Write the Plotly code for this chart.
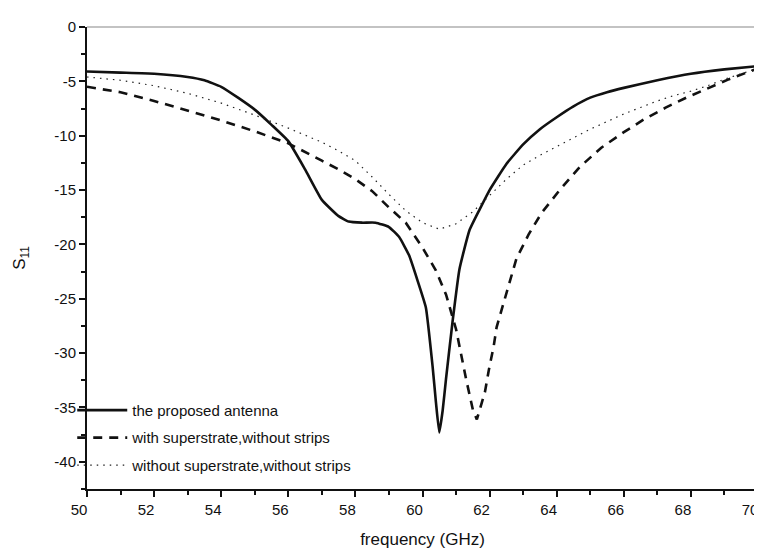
import plotly.graph_objects as go

# Data
x_prop = [50, 51, 52, 53, 53.5, 54, 54.5, 55, 55.5, 56, 56.5, 57, 57.5, 57.8, 58.2, 58.6, 59, 59.3,
          59.6, 59.85, 60.1, 60.3, 60.4, 60.5, 60.6, 60.7, 60.9, 61.1, 61.4, 61.7, 62, 62.5, 63,
          63.5, 64, 64.5, 65, 65.5, 66, 67, 68, 69, 70]
y_prop = [-4.1, -4.2, -4.3, -4.6, -4.9, -5.5, -6.5, -7.6, -9.0, -10.5, -13.1, -15.9, -17.4, -17.9,
          -18.0, -18.0, -18.4, -19.3, -21.0, -23.3, -25.8, -31.2, -34.5, -37.3, -35.3, -32.4, -27.0,
          -22.3, -18.7, -16.8, -15.0, -12.6, -10.8, -9.4, -8.3, -7.3, -6.5, -6.0, -5.6, -4.9, -4.3,
          -3.9, -3.6]

x_sup = [50, 51, 52, 53, 54, 55, 56, 57, 57.5, 58, 58.5, 59, 59.5, 60, 60.4, 60.7, 61, 61.3, 61.5,
         61.62, 61.86, 61.98, 62.12, 62.21, 62.42, 62.6, 62.8, 63.16, 63.55, 64.09, 64.68, 65.33,
         65.99, 66.6, 67.26, 67.86, 68.51, 69.14, 70]
y_sup = [-5.5, -6.0, -6.8, -7.7, -8.6, -9.6, -10.7, -12.3, -13.1, -14.0, -15.1, -16.6, -18.0, -20.3,
         -22.4, -24.6, -27.8, -32.4, -35.2, -36.1, -33.6, -31.5, -29.4, -27.6, -25.4, -23.3, -21.3,
         -19.1, -17.1, -15.0, -12.9, -11.1, -9.7, -8.5, -7.4, -6.5, -5.6, -4.8, -3.8]

x_none = [50, 51, 52, 53, 54, 55, 56, 57, 57.5, 58, 58.5, 59, 59.5, 60, 60.5, 61, 61.5, 62, 62.5,
          63, 63.5, 64, 64.5, 65, 65.5, 66, 66.5, 67, 67.5, 68, 68.5, 69, 69.5, 70]
y_none = [-4.6, -4.9, -5.4, -6.1, -7.0, -8.1, -9.3, -10.6, -11.4, -12.3, -13.8, -15.4, -16.9, -18.0,
          -18.6, -18.1, -17.0, -15.5, -14.0, -12.7, -11.8, -11.0, -10.2, -9.4, -8.7, -8.0, -7.4,
          -6.8, -6.3, -5.9, -5.4, -4.8, -4.3, -3.8]

names = ["the proposed antenna", "with superstrate,without strips",
         "without superstrate,without strips"]

x_tickvals = [50, 52, 54, 56, 58, 60, 62, 64, 66, 68, 70]
x_ticktext = ["50", "52", "54", "56", "58", "60", "62", "64", "66", "68", "70"]
y_tickvals = [0, -5, -10, -15, -20, -25, -30, -35, -40]
y_ticktext = ["0", "-5", "-10", "-15", "-20", "-25", "-30", "-35", "-40"]

fig = go.Figure()
fig.add_trace(go.Scatter(x=x_prop, y=y_prop, mode="lines", name=names[0], legendgroup="a",
                         line=dict(color="#111111", width=2.6, shape="spline", smoothing=0.4)))
fig.add_trace(go.Scatter(x=x_sup, y=y_sup, mode="lines", name=names[1], legendgroup="b",
                         line=dict(color="#111111", width=2.6, dash="9px,7px")))
fig.add_trace(go.Scatter(x=x_none, y=y_none, mode="lines", name=names[2], legendgroup="c",
                         line=dict(color="#222222", width=1.2, dash="1.5px,5px")))

font = "Liberation Sans, Arial, sans-serif"
fig.update_layout(
    width=762, height=555,
    margin=dict(l=79, r=10, t=16, b=74),
    paper_bgcolor="white", plot_bgcolor="white",
    font=dict(family=font, size=14, color="#111111"),
    showlegend=True,
    legend=dict(x=-0.022, y=0.206, xanchor="left", yanchor="top", bgcolor="rgba(0,0,0,0)",
                font=dict(size=15), tracegroupgap=5, itemwidth=50),
    xaxis=dict(range=[50, 70], tickmode="array", tickvals=x_tickvals, ticktext=x_ticktext,
               ticks="outside", ticklen=6, tickwidth=1.5, ticklabelshift=-8,
               ticklabeloverflow="allow",
               tickcolor="#111111", showline=True, linecolor="#111111", linewidth=2,
               showgrid=False, zeroline=False, mirror=False,
               minor=dict(dtick=1, ticks="outside", ticklen=4, tickwidth=1.5, tickcolor="#111111"),
               title=dict(text="frequency (GHz)", font=dict(size=17), standoff=16),
               tickfont=dict(size=15)),
    yaxis=dict(range=[-42.5, 0], tickmode="array", tickvals=y_tickvals, ticktext=y_ticktext,
               ticks="outside", ticklen=6, tickwidth=1.5,
               tickcolor="#111111", showline=True, linecolor="#111111", linewidth=2,
               showgrid=False, zeroline=False, mirror=True,
               minor=dict(dtick=2.5, ticks="outside", ticklen=4, tickwidth=1.5, tickcolor="#111111"),
               title=dict(text="S<sub>11</sub>", font=dict(size=17), standoff=24),
               tickfont=dict(size=15)),
)
fig.add_shape(type="line", xref="paper", yref="paper", x0=0, x1=1, y0=1, y1=1,
              line=dict(color="#888888", width=1.2))

fig.write_html("out.html")
